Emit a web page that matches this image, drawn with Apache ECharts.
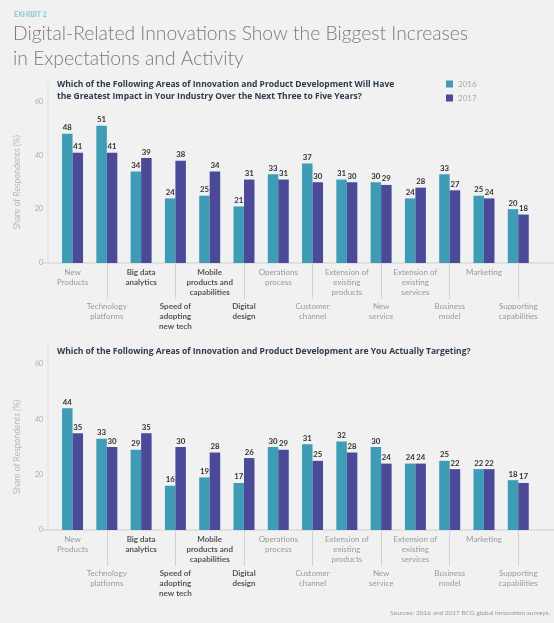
<!DOCTYPE html>
<html><head><meta charset="utf-8">
<script src="https://cdn.jsdelivr.net/npm/echarts@6/dist/echarts.min.js"></script>
<style>html,body{margin:0;padding:0;background:#f1f1f1;}#c{width:554px;height:623px;}</style>
</head><body><div id="c"></div>
<script>
const categories = ['New\nProducts','Technology\nplatforms','Big data\nanalytics','Speed of\nadopting\nnew tech','Mobile\nproducts and\ncapabilities','Digital\ndesign','Operations\nprocess','Customer\nchannel','Extension of\nexisting\nproducts','New\nservice','Extension of\nexisting\nservices','Business\nmodel','Marketing','Supporting\ncapabilities'];
const boldIdx = [2,3,4,5];
const impact2016 = [48,51,34,24,25,21,33,37,31,30,24,33,25,20];
const impact2017 = [41,41,39,38,34,31,31,30,30,29,28,27,24,18];
const target2016 = [44,33,29,16,19,17,30,31,32,30,24,25,22,18];
const target2017 = [35,30,35,30,28,26,29,25,28,24,24,22,22,17];
const yTicks = [0,20,40,60];
const seriesNames = ['2016','2017'];
const colors = ['#3f9cb6','#4b4a98'];
const FONT = 'Lato, "Open Sans", sans-serif';
const QFONT = '"Open Sans", Lato, sans-serif';

const chart = echarts.init(document.getElementById('c'), null, {renderer:'canvas'});
const grids = [
  {left:55.4, right:18.6, top:101.5, height:161.5},
  {left:55.4, right:18.6, top:364, height:166}
];
const rich = {
  n:{fontSize:8, color:'#9a9a9a', lineHeight:10, fontFamily:FONT},
  b:{fontSize:8, color:'#555', fontWeight:'bold', lineHeight:10, fontFamily:FONT}
};
const fmt = (v,i) => boldIdx.includes(i) ? '{b|'+v+'}' : '{n|'+v+'}';
const xAxes = [];
grids.forEach((g,gi)=>{
  xAxes.push({type:'category', gridIndex:gi, position:'bottom', data:categories,
    axisLine:{show:false}, axisTick:{show:false},
    axisLabel:{interval:(i)=>i%2===0, margin:4, formatter:fmt, rich:rich}});
  xAxes.push({type:'category', gridIndex:gi, position:'bottom', offset:0, data:categories,
    axisLine:{show:false},
    axisTick:{show:true, alignWithLabel:true, interval:(i)=>i%2===1, length:36, lineStyle:{color:'#d2d2d2', width:1}},
    axisLabel:{interval:(i)=>i%2===1, margin:38, formatter:fmt, rich:rich}});
});
const yAxes = grids.map((g,gi)=>({type:'value', gridIndex:gi, min:yTicks[0], max:yTicks[yTicks.length-1], interval:20,
  offset:7.4, splitLine:{show:false}, axisLine:{show:false}, axisTick:{show:false},
  axisLabel:{fontSize:7, color:'#aaa', margin:5, fontFamily:FONT},
  name:'Share of Respondents (%)', nameLocation:'middle', nameGap:26,
  nameTextStyle:{fontSize:8.5, color:'#b8b8b8', fontFamily:FONT}}));
const lbl = {show:true, position:'top', distance:2, fontSize:7.8, fontWeight:'bold', color:'#333', fontFamily:FONT};
const mk = (name, data, xi, yi, c) => ({name, type:'bar', data, xAxisIndex:xi, yAxisIndex:yi,
  barWidth:10.5, barGap:'0%', itemStyle:{color:c}, label:lbl});
chart.setOption({
  backgroundColor:'#f1f1f1',
  animation:false,
  color:colors,
  title:[
    {text:'EXHIBIT 2', left:14, top:11, padding:0, textStyle:{fontSize:7, fontWeight:'bold', color:'#86c9cf', fontFamily:FONT}},
    {text:'Digital-Related Innovations Show the Biggest Increases\nin Expectations and Activity', left:13, top:22, padding:0,
      textStyle:{fontSize:19.3, fontWeight:300, color:'#7a7a7a', lineHeight:24.5, fontFamily:FONT}},
    {text:'Which of the Following Areas of Innovation and Product Development Will Have\nthe Greatest Impact in Your Industry Over the Next Three to Five Years?', left:57, top:78, padding:0,
      textStyle:{fontSize:8.5, fontWeight:'bold', color:'#2c3a4c', lineHeight:12.5, fontFamily:QFONT}},
    {text:'Which of the Following Areas of Innovation and Product Development are You Actually Targeting?', left:57, top:346, padding:0,
      textStyle:{fontSize:8.5, fontWeight:'bold', color:'#2c3a4c', lineHeight:12, fontFamily:QFONT}},
    {text:'Sources: 2016 and 2017 BCG global innovation surveys.', right:4, top:609, padding:0,
      textStyle:{fontSize:6.5, fontWeight:'normal', color:'#999', fontFamily:FONT}}
  ],
  legend:{orient:'vertical', left:446, top:80, padding:0, itemWidth:7, itemHeight:7, itemGap:6, icon:'rect',
    data:seriesNames, textStyle:{fontSize:8, color:'#aaa', fontFamily:FONT}},
  grid:grids,
  xAxis:xAxes,
  yAxis:yAxes,
  series:[
    mk(seriesNames[0], impact2016, 0, 0, colors[0]),
    mk(seriesNames[1], impact2017, 0, 0, colors[1]),
    mk(seriesNames[0], target2016, 2, 1, colors[0]),
    mk(seriesNames[1], target2017, 2, 1, colors[1])
  ],
  graphic:[
    {type:'line', shape:{x1:48, y1:83, x2:48, y2:263}, style:{stroke:'#dcdcdc', lineWidth:1}, silent:true},
    {type:'line', shape:{x1:43, y1:263, x2:554, y2:263}, style:{stroke:'#cfcfcf', lineWidth:1}, silent:true},
    {type:'line', shape:{x1:48, y1:345, x2:48, y2:530}, style:{stroke:'#dcdcdc', lineWidth:1}, silent:true},
    {type:'line', shape:{x1:43, y1:530, x2:554, y2:530}, style:{stroke:'#cfcfcf', lineWidth:1}, silent:true}
  ]
});
</script></body></html>
